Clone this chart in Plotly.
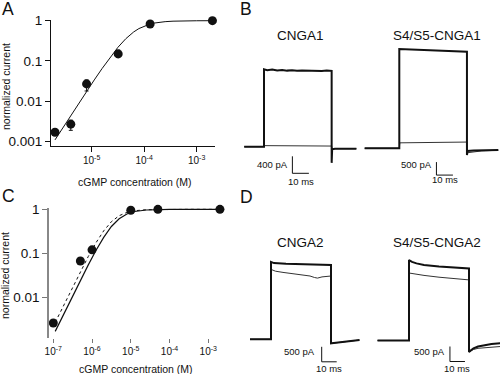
import plotly.graph_objects as go

W, H = 500, 374
FONT = "Arial, Liberation Sans, sans-serif"
INK = "#111111"

# ---------------- Panel A: CNGA1 dose-response ----------------
a_conc = [2e-6, 4e-6, 8e-6, 3.2e-5, 1.3e-4, 2e-3]
a_curr = [0.0017, 0.0027, 0.027, 0.15, 0.83, 1.0]
a_err_plus = [0, 0.0007, 0.007, 0.037, 0, 0]
a_err_minus = [0, 0.0008, 0.009, 0.026, 0, 0]
a_fit_conc = [2.0e-6, 2.82e-6, 3.98e-6, 5.62e-6, 7.94e-6, 1.12e-5, 1.58e-5, 2.24e-5,
              3.16e-5, 4.47e-5, 6.31e-5, 7.94e-5, 1.0e-4, 1.26e-4, 1.58e-4, 2.0e-4,
              2.51e-4, 3.55e-4, 5.01e-4, 1.0e-3, 2.0e-3]
a_fit_curr = [0.0011, 0.0022, 0.0044, 0.0087, 0.0172, 0.0338, 0.065, 0.122, 0.218,
              0.357, 0.525, 0.637, 0.735, 0.815, 0.875, 0.917, 0.946, 0.972, 0.986,
              0.996, 0.999]
a_xticks = [1e-5, 1e-4, 1e-3]
a_xticktext = ["10<sup>-5</sup>", "10<sup>-4</sup>", "10<sup>-3</sup>"]
a_yticks = [0.001, 0.01, 0.1, 1]
a_yticktext = ["0.001", "0.01", "0.1", "1"]

# ---------------- Panel C: CNGA2 dose-response ----------------
c_conc = [1e-7, 5e-7, 1e-6, 1e-5, 5e-5, 2e-3]
c_curr = [0.0026, 0.067, 0.12, 0.95, 1.0, 1.0]
c_fit_conc = [1.12e-7, 2.0e-7, 3.16e-7, 5.01e-7, 7.94e-7, 1.26e-6, 2.0e-6, 3.16e-6,
              5.01e-6, 7.94e-6, 1.26e-5, 2.51e-5, 5.01e-5, 1.0e-4, 3.16e-4, 1.0e-3, 1.82e-3]
c_fit_solid = [0.00168, 0.00472, 0.01075, 0.0243, 0.0539, 0.1155, 0.230, 0.407, 0.611,
               0.782, 0.892, 0.966, 0.990, 0.997, 0.9996, 1.0, 1.0]
c_fit_dashed = [0.00269, 0.00755, 0.0171, 0.0384, 0.0838, 0.173, 0.324, 0.524, 0.716,
                0.852, 0.930, 0.979, 0.9937, 0.998, 0.9998, 1.0, 1.0]
c_xticks = [1e-7, 1e-6, 1e-5, 1e-4, 1e-3]
c_xticktext = ["10<sup>-7</sup>", "10<sup>-6</sup>", "10<sup>-5</sup>",
               "10<sup>-4</sup>", "10<sup>-3</sup>"]
c_yticks = [0.01, 0.1, 1]
c_yticktext = ["0.01", "0.1", "1"]

# ---------------- Current traces (time ms, current pA) ----------------
b1_thick_t = [-12, 0, 0, 2, 5, 8, 11, 14, 17, 20, 23, 26, 29, 32, 35, 38, 41, 41, 41.3, 43, 56]
b1_thick_i = [0, 0, 1820, 1800, 1815, 1795, 1805, 1790, 1800, 1785, 1795, 1790, 1785,
              1795, 1780, 1790, 1785, -380, -60, -50, -50]
b1_thin_t = [-12, 0, 0.3, 41, 41.3, 56]
b1_thin_i = [0, 0, 25, 15, -45, -45]

b2_thick_t = [-21, 0, 0, 41, 41, 41.4, 45, 50, 60]
b2_thick_i = [0, 0, 3820, 3715, -260, -100, -85, -75, -65]
b2_thin_t = [-21, 0, 0.3, 10, 20, 30, 41, 41.4, 45, 50, 60]
b2_thin_i = [0, 0, 210, 220, 230, 235, 240, -170, -130, -100, -75]

d1_thick_t = [-14, 0, 0, 2, 10, 20, 30, 40, 40, 40.5, 59]
d1_thick_i = [0, 0, 2580, 2540, 2520, 2500, 2490, 2480, -135, -130, -25]
d1_thin_t = [-14, 0, 0, 3, 8, 13, 18, 22, 26, 29, 31, 34, 37, 40, 40, 59]
d1_thin_i = [0, 0, 2330, 2270, 2230, 2200, 2170, 2130, 2110, 2060, 2040, 2080, 2100,
             2110, -135, -25]

d2_thick_t = [-21, 0, 0, 2, 5, 10, 20, 30, 40, 40, 41, 43, 46, 50, 55, 61]
d2_thick_i = [0, 0, 2680, 2620, 2570, 2520, 2470, 2430, 2400, -380, -330, -260, -200,
              -160, -120, -90]
d2_thin_t = [-21, 0, 0, 3, 10, 20, 30, 40, 40, 41, 43, 46, 50, 55, 61]
d2_thin_i = [0, 0, 2250, 2220, 2170, 2110, 2060, 2020, -380, -350, -300, -260, -240,
             -220, -200]

trace_names = ["CNGA1", "S4/S5-CNGA1", "CNGA2", "S4/S5-CNGA2"]
scale_ms = [10, 10, 10, 10]
scale_pa = [400, 500, 500, 500]


def px_x(px):
    return px / W


def px_y(py):
    return 1 - py / H


fig = go.Figure()

# ---- Panel A ----
fig.add_trace(go.Scatter(x=a_fit_conc, y=a_fit_curr, mode="lines",
                         line=dict(color=INK, width=1), xaxis="x", yaxis="y",
                         hoverinfo="skip", showlegend=False))
fig.add_trace(go.Scatter(x=a_conc, y=a_curr, mode="markers",
                         marker=dict(color=INK, size=9),
                         error_y=dict(type="data", symmetric=False, array=a_err_plus,
                                      arrayminus=a_err_minus, color=INK, thickness=1, width=2),
                         xaxis="x", yaxis="y", cliponaxis=False, showlegend=False))

# ---- Panel C ----
fig.add_trace(go.Scatter(x=c_fit_conc, y=c_fit_dashed, mode="lines",
                         line=dict(color=INK, width=1, dash="3px,3px"), xaxis="x2", yaxis="y2",
                         hoverinfo="skip", showlegend=False))
fig.add_trace(go.Scatter(x=c_fit_conc, y=c_fit_solid, mode="lines",
                         line=dict(color=INK, width=1.2), xaxis="x2", yaxis="y2",
                         hoverinfo="skip", showlegend=False))
fig.add_trace(go.Scatter(x=c_conc, y=c_curr, mode="markers",
                         marker=dict(color=INK, size=9),
                         xaxis="x2", yaxis="y2", cliponaxis=False, showlegend=False))

# ---- Current-trace panels ----
geo = [
    dict(t0=264, pxms=1.65, base=146.7, pxpa=0.0425, xd=(238, 366), yd=(50, 195),
         bar=(17.2, -626), lab_pa=(15.8, -407), lab_ms=(22.2, -807), title=(300, 35)),
    dict(t0=399.3, pxms=1.65, base=148.3, pxpa=0.026, xd=(360, 500), yd=(40, 195),
         bar=(22.5, -1030), lab_pa=(21.0, -642), lab_ms=(27.5, -1219), title=(437, 35)),
    dict(t0=271, pxms=1.5, base=339.3, pxpa=0.03, xd=(240, 368), yd=(250, 374),
         bar=(33.8, -750), lab_pa=(30.5, -423), lab_ms=(38.8, -957), title=(300, 242)),
    dict(t0=409, pxms=1.5, base=340.5, pxpa=0.03, xd=(372, 500), yd=(250, 374),
         bar=(27.3, -700), lab_pa=(25.3, -383), lab_ms=(32.3, -917), title=(437, 242)),
]
traces = [
    (b1_thick_t, b1_thick_i, b1_thin_t, b1_thin_i),
    (b2_thick_t, b2_thick_i, b2_thin_t, b2_thin_i),
    (d1_thick_t, d1_thick_i, d1_thin_t, d1_thin_i),
    (d2_thick_t, d2_thick_i, d2_thin_t, d2_thin_i),
]

annotations = []
layout_axes = {}
for k, (g, tr) in enumerate(zip(geo, traces)):
    n = k + 3
    xa, ya = f"x{n}", f"y{n}"
    thick_t, thick_i, thin_t, thin_i = tr
    fig.add_trace(go.Scatter(x=thin_t, y=thin_i, mode="lines",
                             line=dict(color="#333333", width=1), xaxis=xa, yaxis=ya,
                             hoverinfo="skip", showlegend=False))
    fig.add_trace(go.Scatter(x=thick_t, y=thick_i, mode="lines",
                             line=dict(color=INK, width=2), xaxis=xa, yaxis=ya,
                             hoverinfo="skip", showlegend=False))
    bt, bi = g["bar"]
    fig.add_trace(go.Scatter(x=[bt, bt, bt + scale_ms[k]],
                             y=[bi + scale_pa[k], bi, bi], mode="lines",
                             line=dict(color=INK, width=1), xaxis=xa, yaxis=ya,
                             hoverinfo="skip", showlegend=False))
    xr = [(g["xd"][0] - g["t0"]) / g["pxms"], (g["xd"][1] - g["t0"]) / g["pxms"]]
    yr = [(g["base"] - g["yd"][1]) / g["pxpa"], (g["base"] - g["yd"][0]) / g["pxpa"]]
    layout_axes[f"xaxis{n}"] = dict(domain=[px_x(g["xd"][0]), px_x(g["xd"][1])],
                                    range=xr, visible=False, anchor=ya, automargin=False)
    layout_axes[f"yaxis{n}"] = dict(domain=[px_y(g["yd"][1]), px_y(g["yd"][0])],
                                    range=yr, visible=False, anchor=xa, automargin=False)
    annotations.append(dict(x=g["lab_pa"][0], y=g["lab_pa"][1], xref=xa, yref=ya,
                            text=f"{scale_pa[k]} pA", showarrow=False, xanchor="right",
                            yanchor="middle", font=dict(size=9.5, color=INK)))
    annotations.append(dict(x=g["lab_ms"][0], y=g["lab_ms"][1], xref=xa, yref=ya,
                            text=f"{scale_ms[k]} ms", showarrow=False, xanchor="center",
                            yanchor="middle", font=dict(size=9.5, color=INK)))
    annotations.append(dict(x=px_x(g["title"][0]), y=px_y(g["title"][1]), xref="paper",
                            yref="paper", text=trace_names[k], showarrow=False,
                            xanchor="center", yanchor="middle", font=dict(size=13.5, color=INK)))

# Panel letters
for letter, (lx, ly) in zip("ABCD", [(0, -3.5), (237.5, -3), (0, 183.5), (238, 185)]):
    annotations.append(dict(x=px_x(lx), y=px_y(ly), xref="paper", yref="paper", text=letter,
                            showarrow=False, xanchor="left", yanchor="top",
                            font=dict(size=17.5, color=INK)))

# Axis titles
for (cx, cy) in [(135, 182), (136, 369)]:
    annotations.append(dict(x=px_x(cx), y=px_y(cy), xref="paper", yref="paper",
                            text="cGMP concentration (M)", showarrow=False,
                            xanchor="center", yanchor="middle", font=dict(size=10.5, color=INK)))
for (cx, cy) in [(6, 87), (5, 276)]:
    annotations.append(dict(x=px_x(cx), y=px_y(cy), xref="paper", yref="paper",
                            text="normalized current", showarrow=False, textangle=-90,
                            xanchor="center", yanchor="middle", font=dict(size=10.5, color=INK)))

common_tick = dict(showgrid=False, zeroline=False, ticks="outside", ticklen=5,
                   tickwidth=1, tickcolor=INK, automargin=False)

fig.update_layout(
    width=W, height=H, margin=dict(l=0, r=0, t=0, b=0, autoexpand=False),
    paper_bgcolor="white", plot_bgcolor="rgba(0,0,0,0)",
    font=dict(family=FONT, color=INK),
    showlegend=False,
    xaxis=dict(type="log", range=[-5.775, -2.65], domain=[px_x(51), px_x(215)],
               tickvals=a_xticks, ticktext=a_xticktext, showline=True, linecolor=INK,
               linewidth=1, tickfont=dict(size=10), anchor="y", **common_tick),
    yaxis=dict(type="log", range=[-3.11, 0.017], domain=[px_y(146), px_y(20)],
               tickvals=a_yticks, ticktext=a_yticktext, showline=True, linecolor=INK,
               linewidth=1, tickfont=dict(size=13.5), anchor="x", **common_tick),
    xaxis2=dict(type="log", range=[-7.103, -2.62], domain=[px_x(49.3), px_x(223)],
                tickvals=c_xticks, ticktext=c_xticktext, showline=False,
                tickfont=dict(size=10), anchor="y2", showgrid=False, zeroline=False,
                ticks="outside", ticklen=4, tickwidth=1, tickcolor="#777777",
                automargin=False),
    yaxis2=dict(type="log", range=[-2.925, 0.03], domain=[px_y(338), px_y(208)],
                tickvals=c_yticks, ticktext=c_yticktext, showline=True, linecolor="#888888",
                linewidth=2, tickfont=dict(size=13.5), anchor="x2", showgrid=False,
                zeroline=False, ticks="outside", ticklen=5, tickwidth=1, tickcolor="#777777",
                automargin=False),
    annotations=annotations,
    **layout_axes,
)

fig.write_html("out.html", config={"displayModeBar": False},
               post_script="document.body.style.margin='0';document.body.style.padding='0';")
